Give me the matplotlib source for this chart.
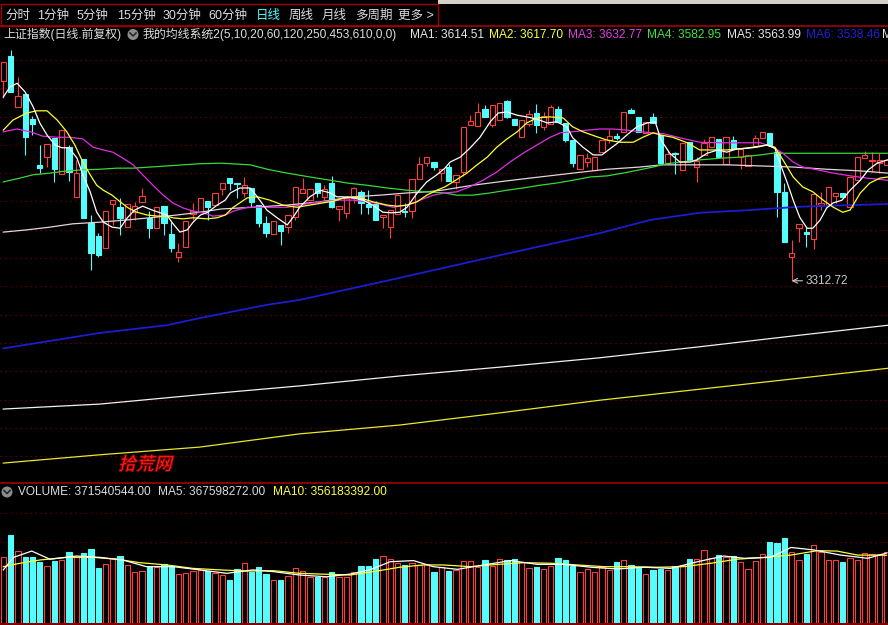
import numpy as np
import matplotlib.pyplot as plt
from matplotlib.patches import Rectangle, Ellipse, PathPatch
from matplotlib.textpath import TextPath
from matplotlib.font_manager import FontProperties
from matplotlib.transforms import Affine2D

plt.rcParams['font.family'] = ['Liberation Sans', 'Noto Sans CJK SC']

# 上证指数 daily bars (forward adjusted)
opens = [3675, 3720, 3628, 3652, 3606, 3523, 3537, 3572, 3506, 3555,
         3465, 3534, 3418, 3394, 3372, 3452, 3447, 3410, 3437, 3456,
         3427, 3408, 3448, 3398, 3356, 3374, 3434, 3437, 3457, 3450,
         3479, 3499, 3490, 3472, 3481, 3450, 3418, 3398, 3414, 3410,
         3428, 3472, 3459, 3490, 3465, 3490, 3443, 3436, 3463, 3474,
         3452, 3452, 3428, 3410, 3434, 3439, 3439, 3497, 3526, 3528,
         3508, 3519, 3492, 3510, 3595, 3593, 3624, 3595, 3604, 3639,
         3606, 3573, 3597, 3617, 3592, 3597, 3624, 3599, 3568, 3515,
         3528, 3514, 3546, 3568, 3575, 3583, 3622, 3610, 3581, 3610,
         3577, 3526, 3544, 3514, 3564, 3519, 3541, 3555, 3570, 3525,
         3568, 3537, 3521, 3557, 3572, 3581, 3546, 3474, 3356, 3408,
         3401, 3388, 3450, 3450, 3466, 3472, 3447, 3495, 3535, 3530,
         3526, 3523]
highs = [3710, 3731, 3682, 3652, 3612, 3559, 3561, 3572, 3586, 3559,
         3532, 3534, 3432, 3399, 3439, 3459, 3463, 3452, 3456, 3481,
         3439, 3447, 3448, 3419, 3381, 3421, 3454, 3463, 3457, 3472,
         3490, 3499, 3490, 3501, 3481, 3450, 3430, 3421, 3414, 3432,
         3483, 3499, 3479, 3490, 3486, 3503, 3448, 3463, 3483, 3477,
         3477, 3457, 3432, 3441, 3468, 3454, 3497, 3537, 3537, 3528,
         3515, 3525, 3505, 3592, 3613, 3635, 3632, 3632, 3635, 3641,
         3606, 3604, 3622, 3633, 3619, 3632, 3630, 3599, 3568, 3541,
         3544, 3537, 3568, 3588, 3581, 3619, 3626, 3610, 3601, 3617,
         3577, 3548, 3546, 3563, 3564, 3537, 3570, 3574, 3570, 3574,
         3575, 3552, 3541, 3577, 3583, 3581, 3546, 3490, 3387, 3416,
         3410, 3470, 3474, 3483, 3472, 3472, 3501, 3537, 3548, 3546,
         3544, 3532]
lows = [3644, 3655, 3628, 3541, 3577, 3508, 3519, 3492, 3506, 3494,
        3465, 3427, 3332, 3356, 3372, 3414, 3396, 3410, 3423, 3456,
        3390, 3408, 3396, 3365, 3347, 3374, 3423, 3437, 3423, 3450,
        3468, 3477, 3463, 3465, 3447, 3410, 3392, 3398, 3378, 3399,
        3423, 3472, 3459, 3465, 3459, 3445, 3421, 3427, 3454, 3434,
        3434, 3423, 3408, 3390, 3434, 3428, 3427, 3497, 3521, 3514,
        3494, 3494, 3479, 3503, 3595, 3593, 3610, 3592, 3604, 3608,
        3595, 3573, 3593, 3581, 3586, 3597, 3601, 3564, 3519, 3515,
        3519, 3514, 3546, 3563, 3568, 3583, 3617, 3583, 3581, 3599,
        3526, 3526, 3506, 3514, 3532, 3492, 3541, 3555, 3537, 3525,
        3552, 3515, 3521, 3557, 3572, 3559, 3428, 3383, 3312.72, 3383,
        3374, 3370, 3441, 3450, 3454, 3465, 3447, 3495, 3535, 3510,
        3508, 3523]
closes = [3710, 3655, 3648, 3574, 3597, 3517, 3561, 3515, 3586, 3510,
          3508, 3427, 3363, 3359, 3439, 3459, 3427, 3452, 3448, 3466,
          3408, 3447, 3418, 3372, 3365, 3421, 3439, 3463, 3447, 3472,
          3490, 3490, 3488, 3486, 3456, 3418, 3399, 3421, 3403, 3432,
          3483, 3479, 3479, 3472, 3479, 3447, 3448, 3463, 3481, 3454,
          3447, 3423, 3432, 3441, 3468, 3437, 3497, 3525, 3537, 3519,
          3515, 3494, 3505, 3592, 3602, 3619, 3610, 3632, 3635, 3610,
          3595, 3604, 3615, 3595, 3612, 3628, 3601, 3568, 3526, 3541,
          3535, 3537, 3568, 3575, 3572, 3619, 3617, 3583, 3601, 3599,
          3526, 3543, 3543, 3563, 3532, 3530, 3563, 3574, 3537, 3574,
          3552, 3552, 3541, 3572, 3583, 3559, 3474, 3383, 3363, 3416,
          3398, 3470, 3454, 3483, 3472, 3465, 3501, 3537, 3541, 3532,
          3532, 3532]
# volume, 1e8 shares
volume = [3.45, 4.62, 3.78, 3.45, 3.45, 3.22, 3.00, 3.26, 3.31, 3.72,
          3.45, 3.66, 3.89, 2.91, 3.08, 3.40, 3.52, 3.05, 2.70, 2.75,
          2.96, 2.96, 3.08, 3.01, 2.56, 2.61, 2.73, 2.79, 2.73, 2.61,
          2.52, 2.26, 2.84, 3.14, 2.70, 2.93, 2.57, 2.26, 2.26, 2.47,
          2.87, 2.75, 2.40, 2.43, 2.40, 2.66, 2.43, 2.40, 2.66, 3.00,
          3.00, 3.36, 3.54, 3.35, 3.14, 3.05, 3.14, 3.05, 3.10, 2.70,
          2.96, 2.75, 2.79, 3.26, 3.26, 2.96, 3.31, 3.00, 3.35, 3.31,
          3.35, 3.22, 2.87, 2.96, 2.84, 3.00, 3.43, 3.31, 3.00, 2.70,
          2.84, 2.66, 2.96, 2.79, 3.22, 3.31, 3.05, 2.93, 2.56, 2.79,
          2.84, 2.79, 3.00, 3.05, 3.36, 3.36, 3.84, 3.43, 3.57, 3.49,
          3.52, 3.22, 2.84, 3.26, 3.61, 4.27, 4.22, 4.45, 3.75, 3.31,
          3.61, 4.10, 3.75, 3.31, 3.31, 3.22, 3.40, 3.31, 3.66, 3.61,
          3.61, 3.71540544]

# moving averages, sampled along the curve (day position, value)
ma5_pos = [0, 0.9, 1.9, 3.0, 4.1, 5.0, 6.0, 7.1, 8.0, 9.0, 10.1, 10.9, 11.9, 12.8, 13.7, 14.9,
           16.0, 17.0, 18.0, 19.1, 20.4, 21.5, 22.4, 23.2, 24.2, 25.2, 26.0, 27.0, 28.0, 29.3,
           30.4, 31.1, 32.4, 33.8, 34.8, 36.1, 37.5, 38.9, 39.7, 40.6, 42.0, 43.4, 44.8, 45.7,
           46.5, 47.9, 49.3, 50.6, 52.0, 53.2, 54.3, 55.3, 56.7, 58.0, 59.4, 60.5, 61.2, 62.6,
           63.9, 65.3, 66.7, 67.8, 69.0, 70.4, 71.7, 73.1, 74.5, 75.8, 77.2, 78.0, 79.4, 80.8,
           82.0, 83.1, 84.2, 85.4, 86.8, 88.2, 89.3, 90.1, 91.3, 92.7, 94.1, 95.0, 96.4, 97.9,
           99.1, 100.5, 101.9, 103.2, 104.6, 105.7, 106.4, 107.4, 108.2, 109.1, 110.1, 110.9,
           111.9, 112.8, 113.7, 114.9, 116.0, 117.4, 118.5, 119.7, 121.1]
ma5 = [3646, 3664, 3671, 3655, 3628, 3599, 3577, 3559, 3554, 3554, 3535, 3505, 3474, 3437, 3419, 3410,
       3408, 3427, 3441, 3448, 3441, 3436, 3432, 3417, 3401, 3405, 3419, 3432, 3437, 3450,
       3459, 3472, 3481, 3481, 3465, 3441, 3427, 3414, 3428, 3446, 3465, 3477, 3472, 3465,
       3465, 3463, 3459, 3450, 3437, 3436, 3437, 3446, 3472, 3492, 3505, 3517, 3528, 3537,
       3553, 3573, 3601, 3617, 3619, 3613, 3610, 3606, 3599, 3601, 3592, 3572, 3555, 3541,
       3541, 3552, 3563, 3577, 3592, 3599, 3601, 3568, 3544, 3528, 3528, 3532, 3544, 3550,
       3546, 3552, 3553, 3555, 3559, 3553, 3526, 3490, 3459, 3428, 3408, 3408,
       3423, 3445, 3454, 3459, 3477, 3495, 3514, 3526, 3532]

ma10_pos = [0, 1.3, 3.2, 4.6, 6.0, 7.4, 8.7, 9.8, 10.9, 11.9, 12.8, 13.7, 14.9, 16.0, 17.1, 18.3,
            19.7, 21.1, 22.4, 23.2, 24.6, 26.0, 27.9, 29.3, 30.4, 31.5, 33.4, 34.8, 36.5, 38.3,
            40.2, 42.0, 43.8, 45.2, 47.1, 48.9, 50.6, 52.6, 53.9, 55.3, 56.7, 58.0, 59.4, 60.5,
            61.6, 63.5, 64.9, 66.3, 67.6, 69.0, 70.4, 71.7, 73.1, 74.9, 76.7, 78.0, 79.4, 81.3,
            82.7, 84.5, 86.3, 87.6, 89.0, 90.1, 91.7, 93.7, 95.4, 97.2, 99.1, 100.9, 102.7, 104.6,
            105.7, 106.8, 108.2, 109.5, 110.9, 112.3, 113.7, 115.0, 116.0, 117.4, 118.7, 120.1, 121.2]
ma10 = [3586, 3604, 3617, 3621, 3621, 3604, 3583, 3559, 3528, 3505, 3486, 3477, 3468, 3456, 3445, 3437,
        3432, 3430, 3430, 3427, 3425, 3427, 3425, 3427, 3432, 3446, 3463, 3465, 3459, 3450,
        3446, 3450, 3454, 3457, 3465, 3463, 3456, 3450, 3448, 3450, 3456, 3468, 3477, 3483,
        3492, 3508, 3523, 3537, 3555, 3570, 3583, 3599, 3608, 3610, 3608, 3592, 3583, 3574,
        3568, 3564, 3564, 3573, 3581, 3577, 3573, 3563, 3550, 3550, 3550, 3552, 3555, 3559,
        3555, 3532, 3501, 3483, 3474, 3459, 3446, 3437, 3441, 3472, 3490, 3499, 3501]

ma20_pos = [0, 1.9, 3.7, 5.4, 7.4, 9.1, 10.9, 12.3, 13.7, 15.0, 16.4, 17.8, 19.1, 20.5, 21.9, 23.2,
            24.6, 26.0, 27.4, 28.7, 30.4, 31.5, 33.4, 35.2, 37.0, 38.9, 40.6, 42.4, 44.3, 46.1,
            47.9, 49.8, 51.6, 53.4, 55.3, 57.1, 58.9, 60.5, 62.1, 63.9, 65.7, 67.6, 69.4, 71.2,
            73.1, 74.9, 76.3, 78.0, 80.0, 81.7, 83.5, 85.4, 87.2, 89.0, 90.6, 92.7, 95.4, 98.2,
            100.9, 103.7, 105.4, 106.8, 108.2, 109.5, 111.5, 113.7, 116.0, 118.3, 121.2]
ma20 = [3583, 3588, 3583, 3575, 3573, 3573, 3570, 3555, 3550, 3546, 3535, 3523, 3505, 3486, 3468, 3454,
        3445, 3439, 3436, 3430, 3432, 3439, 3446, 3446, 3446, 3446, 3450, 3454, 3457, 3459,
        3459, 3456, 3452, 3446, 3450, 3459, 3468, 3472, 3474, 3483, 3495, 3510, 3528, 3544,
        3559, 3573, 3581, 3583, 3586, 3588, 3588, 3586, 3583, 3581, 3579, 3572, 3564, 3563,
        3563, 3563, 3555, 3544, 3528, 3519, 3514, 3508, 3503, 3499, 3495]

ma60_pos = [0, 2.3, 4.1, 6.4, 8.7, 10.9, 13.2, 15.6, 17.8, 20.1, 22.4, 24.6, 26.9, 29.9, 33.8, 36.5,
            38.9, 42.0, 44.8, 47.1, 49.8, 52.6, 55.3, 58.0, 60.5, 62.1, 64.3, 66.7, 69.0, 71.2,
            73.5, 75.8, 78.0, 80.4, 82.7, 84.9, 87.2, 89.0, 90.9, 92.7, 95.4, 98.2, 100.9, 103.7,
            105.4, 108.2, 112.8, 117.4, 121.2]
ma60 = [3492, 3499, 3505, 3508, 3512, 3514, 3515, 3517, 3517, 3519, 3521, 3523, 3525, 3526, 3523, 3514,
        3508, 3501, 3495, 3490, 3486, 3481, 3477, 3474, 3472, 3468, 3468, 3472, 3477, 3481,
        3486, 3490, 3495, 3501, 3503, 3508, 3514, 3519, 3525, 3528, 3532, 3535, 3537, 3541,
        3544, 3544, 3544, 3544, 3544]

ma120_pos = [0, 3.2, 6.4, 9.5, 13.2, 16.9, 20.1, 23.8, 26.9, 29.9, 34.2, 38.9, 43.4, 47.9, 51.6, 55.3,
             58.0, 60.1, 64.3, 69.0, 73.5, 78.0, 82.7, 87.2, 90.2, 94.5, 99.1, 103.7, 108.2, 112.8,
             117.4, 121.2]
ma120 = [3401, 3405, 3410, 3416, 3419, 3423, 3427, 3432, 3437, 3443, 3446, 3450, 3456, 3465, 3468, 3472,
         3474, 3477, 3486, 3494, 3501, 3508, 3515, 3519, 3523, 3523, 3523, 3521, 3519, 3515,
         3512, 3508]

ma250_pos = [0, 13.2, 22.4, 26.9, 36.1, 40.6, 54.3, 68.0, 81.7, 88.6, 95.4, 102.3, 109.1, 121.2]
ma250 = [3190, 3218, 3232, 3245, 3269, 3278, 3318, 3359, 3399, 3423, 3436, 3441, 3447, 3452]

long_pos = [0, 13.2, 26.9, 40.6, 54.3, 68.0, 81.7, 95.4, 109.1, 121.2]
ma453 = [3080, 3089, 3106, 3122, 3140, 3156, 3173, 3193, 3214, 3232]
ma610 = [2982, 2997, 3011, 3035, 3051, 3073, 3096, 3116, 3136, 3154]

vma5_pos = [0, 1.4, 3.9, 6.4, 10.0, 13.2, 16.4, 19.6, 23.3, 26.9, 30.6, 34.2, 37.0, 40.6, 44.3, 47.5,
            50.2, 53.0, 56.2, 58.9, 62.2, 65.8, 69.5, 73.2, 76.8, 80.5, 84.1, 87.8, 91.4, 95.1,
            98.7, 101.5, 105.1, 107.9, 111.0, 114.7, 118.4, 121.0]
vma5 = [2.79, 3.45, 3.78, 3.35, 3.52, 3.45, 3.31, 2.96, 2.96, 2.79, 2.61, 2.79, 2.70, 2.52, 2.43, 2.57,
        2.79, 3.22, 3.28, 2.96, 2.82, 3.05, 3.28, 3.08, 3.08, 2.93, 2.84, 2.93, 2.87, 3.22,
        3.52, 3.40, 3.45, 3.97, 3.84, 3.57, 3.40, 3.67598272]
vma10_pos = [0, 2.3, 5.0, 8.7, 12.3, 15.5, 18.7, 22.4, 26.0, 29.7, 33.3, 37.0, 40.6, 44.3, 47.5, 50.7,
             54.3, 57.5, 60.3, 64.0, 67.7, 71.3, 75.0, 78.6, 82.3, 85.9, 89.6, 93.2, 96.9, 100.5,
             104.2, 107.9, 111.5, 114.2, 117.0, 121.0]
vma10 = [2.96, 3.14, 3.31, 3.45, 3.45, 3.35, 3.17, 3.05, 2.87, 2.79, 2.73, 2.75, 2.61, 2.56, 2.52, 2.70,
         2.93, 3.05, 3.05, 2.96, 3.08, 3.17, 3.14, 3.05, 2.96, 2.96, 2.93, 2.96, 3.14, 3.35,
         3.45, 3.57, 3.80, 3.78, 3.57, 3.56183392]

periods = ['分时', '1分钟', '5分钟', '15分钟', '30分钟', '60分钟', '日线', '周线', '月线', '多周期', '更多 >']
period_x = [5, 37, 77, 117, 163, 208, 256, 289, 322, 355, 398]

ma_labels = ['MA1: 3614.51', 'MA2: 3617.70', 'MA3: 3632.77', 'MA4: 3582.95', 'MA5: 3563.99', 'MA6: 3538.46', 'MA7']
ma_label_x = [410, 489, 568, 647, 727, 806, 882]
ma_label_colors = ['#e6e6e6', '#ffff40', '#e040e0', '#40e040', '#e6e6e6', '#2020d8', '#e6e6e6']

W, H = 888, 625
RED = '#ff3c3c'
CYAN = '#54fcfc'
GRID = '#7a0000'
BORDER = '#a00000'
TXT = '#dcdcdc'


def fx(x):
    return x / W


def fy(y):
    return 1 - y / H


opens, highs, lows, closes = map(np.array, (opens, highs, lows, closes))
volume = np.array(volume)
days = np.arange(len(closes))
up = closes >= opens
top = np.maximum(opens, closes)
bot = np.minimum(opens, closes)
colors = np.where(up, RED, CYAN)
xlim = (-0.45, 121.19)

fig = plt.figure(figsize=(W / 100, H / 100), dpi=100, facecolor='black')

# ---- price panel
ax = fig.add_axes([0, fy(480), 1, (480 - 44) / H])
ax.set_facecolor('black')
ax.set_xlim(*xlim)
ax.set_ylim(2951.3, 3742.2)
ax.axis('off')
for g in 3713.2 - 51.34 * np.arange(15):
    ax.axhline(g, color=GRID, lw=0.9, ls=(0, (1, 3)), zorder=0)

ax.vlines(days, top, highs, colors=colors, lw=0.8, zorder=2)
ax.vlines(days, lows, bot, colors=colors, lw=0.8, zorder=2)
ax.bar(days[up], (top - bot)[up], bottom=bot[up], width=0.72,
       facecolor='black', edgecolor=RED, lw=0.8, zorder=2)
ax.bar(days[~up], (top - bot)[~up], bottom=bot[~up], width=0.72,
       color=CYAN, edgecolor=CYAN, lw=0.8, zorder=2)

ax.plot(long_pos, ma610, color='#e8e830', lw=0.9, zorder=3)
ax.plot(long_pos, ma453, color='#f0f0f0', lw=0.9, zorder=3)
ax.plot(ma250_pos, ma250, color='#1c1cd0', lw=1.3, zorder=3)
ax.plot(ma120_pos, ma120, color='#e4d4dc', lw=0.9, zorder=3)
ax.plot(ma60_pos, ma60, color='#38d838', lw=0.9, zorder=3)
ax.plot(ma20_pos, ma20, color='#e030e0', lw=0.9, zorder=3)
ax.plot(ma10_pos, ma10, color='#ffff30', lw=0.9, zorder=3)
ax.plot(ma5_pos, ma5, color='#ffffff', lw=0.9, zorder=3)

low_day = int(np.argmin(lows))
ax.annotate(f'{lows[low_day]:.2f}', xy=(low_day, lows[low_day]),
            xytext=(low_day + 1.85, lows[low_day]), color='#c8c8c8', fontsize=8.5,
            va='center', ha='left',
            arrowprops=dict(arrowstyle='->', color='#c8c8c8', lw=0.8, shrinkA=0, shrinkB=0))

# ---- volume panel
vax = fig.add_axes([0, fy(623), 1, (623 - 483) / H])
vax.set_facecolor('black')
vax.set_xlim(*xlim)
vax.set_ylim(0, 7.357)
vax.axis('off')
for g in (5.78, 4.26):
    vax.axhline(g, color=GRID, lw=0.9, ls=(0, (1, 3)), zorder=0)
vax.bar(days[up], volume[up], width=0.72, facecolor='black', edgecolor=RED, lw=0.8, zorder=2)
vax.bar(days[~up], volume[~up], width=0.72, color=CYAN, edgecolor=CYAN, lw=0.8, zorder=2)
vax.plot(vma10_pos, vma10, color='#ffff30', lw=0.9, zorder=3)
vax.plot(vma5_pos, vma5, color='#ffffff', lw=0.9, zorder=3)

# ---- frame lines and header
fig.add_artist(Rectangle((fx(438), fy(3.5)), 1 - fx(438), 3.5 / H, transform=fig.transFigure,
                         facecolor='#d4d0c8', edgecolor='none'))
fig.add_artist(Rectangle((fx(1), fy(26)), fx(437), 22 / H, transform=fig.transFigure,
                         facecolor='none', edgecolor=BORDER, lw=1.0))
for y in (26, 483, 623.5):
    fig.add_artist(plt.Line2D([0, 1], [fy(y), fy(y)], transform=fig.transFigure, color=BORDER, lw=1.2))

for label, x in zip(periods, period_x):
    fig.text(fx(x), fy(15.5), label, fontsize=9, va='center', ha='left',
             color=CYAN if label == '日线' else TXT)

fig.text(fx(3), fy(34.5), '上证指数(日线.前复权)', fontsize=8.6, va='center', ha='left', color=TXT)
fig.text(fx(143), fy(34.5), '我的均线系统2(5,10,20,60,120,250,453,610,0,0)', fontsize=8.6,
         va='center', ha='left', color=TXT)
for label, x, c in zip(ma_labels, ma_label_x, ma_label_colors):
    fig.text(fx(x), fy(34.5), label, fontsize=8.6, va='center', ha='left', color=c)

fig.text(fx(18), fy(492), 'VOLUME: 371540544.00', fontsize=8.6, va='center', ha='left', color=TXT)
fig.text(fx(158), fy(492), 'MA5: 367598272.00', fontsize=8.6, va='center', ha='left', color=TXT)
fig.text(fx(273), fy(492), 'MA10: 356183392.00', fontsize=8.6, va='center', ha='left', color='#ffff40')

for cx, cy in ((133, 34.5), (7, 492)):
    fig.add_artist(Ellipse((fx(cx), fy(cy)), 11 / W, 11 / H, transform=fig.transFigure,
                           facecolor='#8c8c8c', edgecolor='none'))
    fig.add_artist(plt.Line2D([fx(cx - 3), fx(cx), fx(cx + 3)], [fy(cy - 1.5), fy(cy + 1.5), fy(cy - 1.5)],
                              transform=fig.transFigure, color='#2a2a2a', lw=1.2))

# slanted red site mark
mark = TextPath((0, 0), '拾荒网', size=18, prop=FontProperties(family='Noto Sans CJK SC', weight='bold'))
fig.add_artist(PathPatch(mark, transform=Affine2D().skew_deg(14, 0).translate(118, H - 470),
                         facecolor='#ff1818', edgecolor='#800000', lw=0.5))

fig.savefig('out.png', dpi=100, facecolor='black')
